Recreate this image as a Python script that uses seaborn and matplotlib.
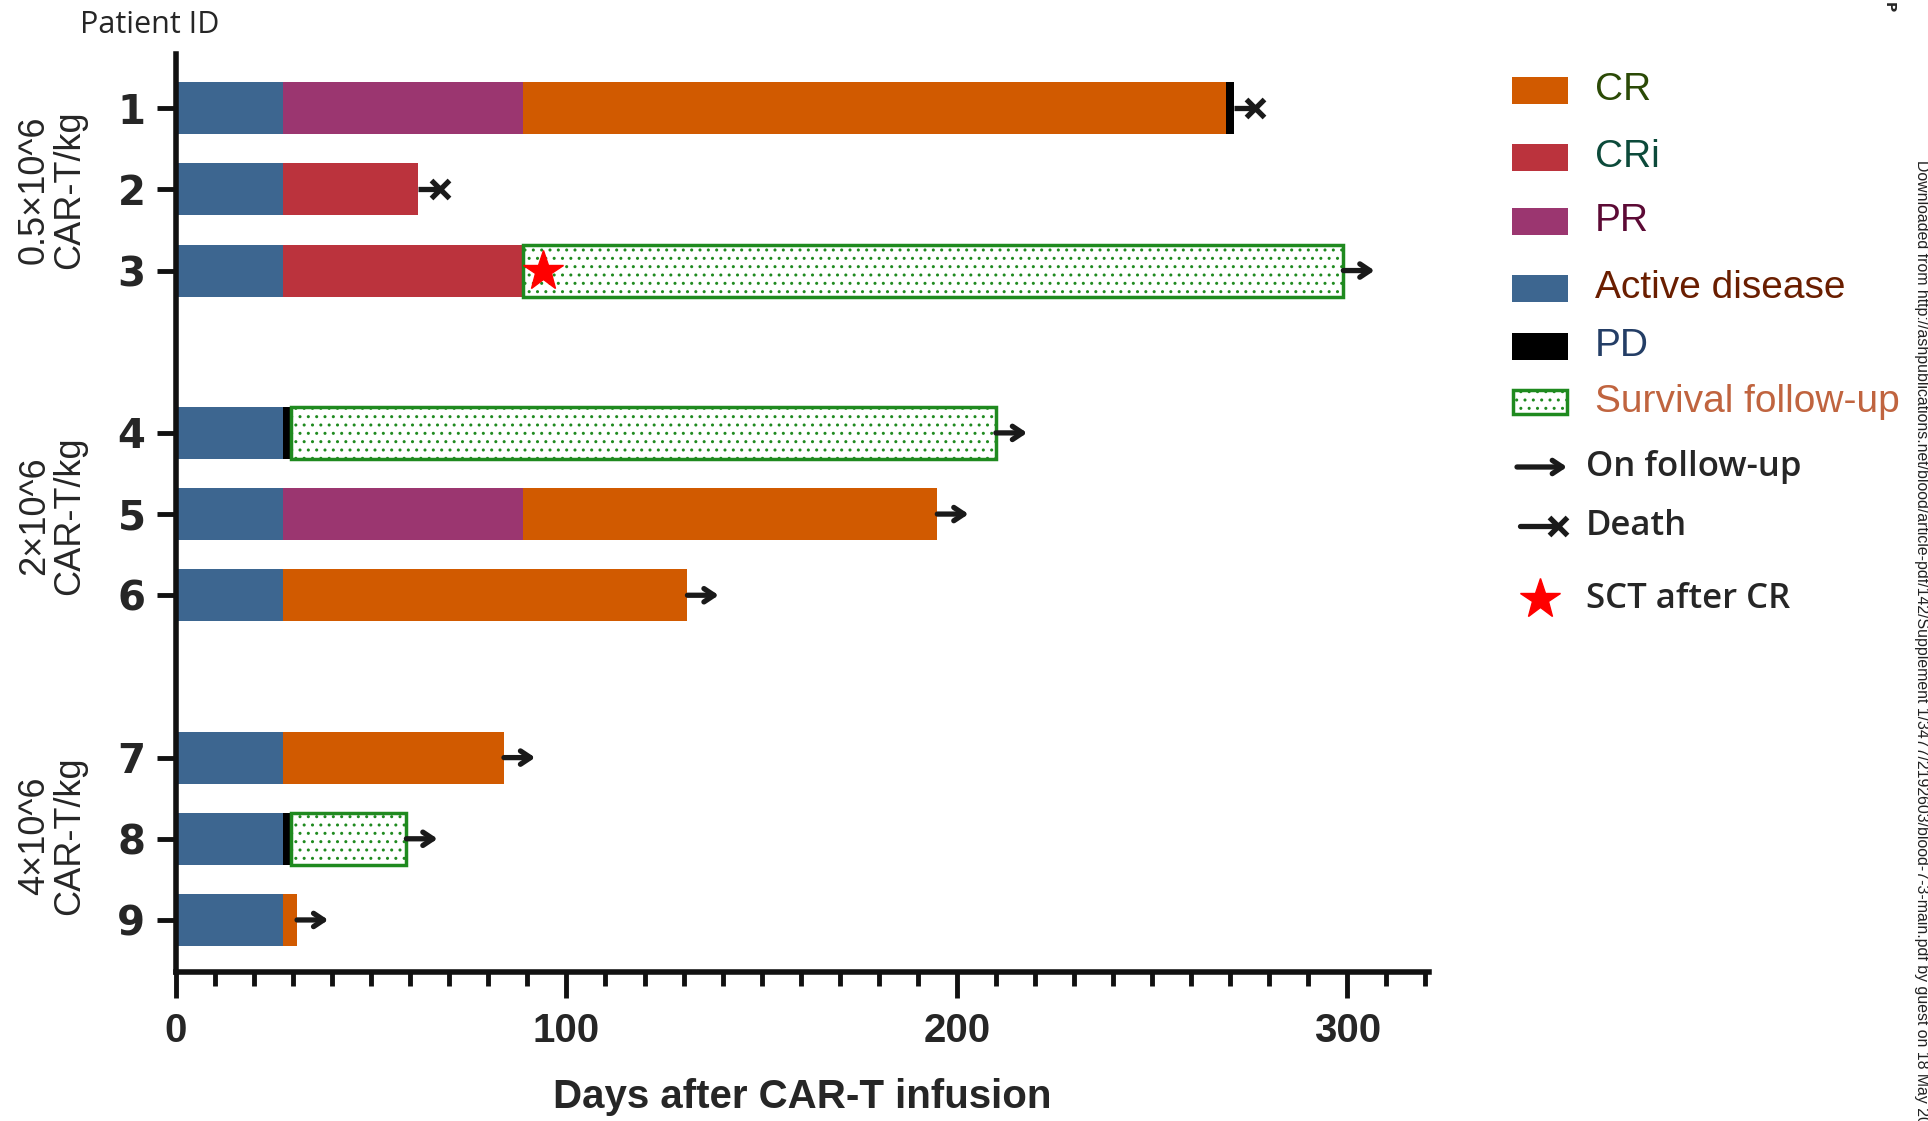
import numpy as np
import pandas as pd
import seaborn as sns
import matplotlib.pyplot as plt
from matplotlib import font_manager
from matplotlib.patches import Rectangle

# dados (dias apos a infusao de CAR-T)
patient_ids = ["1", "2", "3", "4", "5", "6", "7", "8", "9"]
patient_group = [0, 0, 0, 1, 1, 1, 2, 2, 2]
dose_labels = ["0.5×10^6\nCAR-T/kg", "2×10^6\nCAR-T/kg", "4×10^6\nCAR-T/kg"]

segment_states = [
    ["Active disease", "PR", "CR", "PD"],
    ["Active disease", "CRi"],
    ["Active disease", "CRi", "Survival follow-up"],
    ["Active disease", "PD", "Survival follow-up"],
    ["Active disease", "PR", "CR"],
    ["Active disease", "CR"],
    ["Active disease", "CR"],
    ["Active disease", "PD", "Survival follow-up"],
    ["Active disease", "CR"],
]
segment_ends = [
    [27.5, 89, 269, 271],
    [27.5, 62],
    [27.5, 89, 299],
    [27.5, 29.5, 210],
    [27.5, 89, 195],
    [27.5, 131],
    [27.5, 84],
    [27.5, 29.5, 59],
    [27.5, 31],
]
outcomes = ["Death", "Death", "On follow-up", "On follow-up", "On follow-up",
            "On follow-up", "On follow-up", "On follow-up", "On follow-up"]
sct_patients = ["3"]
sct_days = [94]

x_ticks = [0, 100, 200, 300]

state_colors = {
    "CR": "#d15a00",
    "CRi": "#bb333d",
    "PR": "#9b3670",
    "Active disease": "#3d6690",
    "PD": "#000000",
    "Survival follow-up": "#ffffff",
}
legend_states = ["CR", "CRi", "PR", "Active disease", "PD", "Survival follow-up"]
legend_text_colors = ["#2b4a06", "#0c4a3a", "#5c0a35", "#6a1e00", "#243e66", "#c0643f"]
legend_marks = ["On follow-up", "Death", "SCT after CR"]
green = "#1f8a1f"

# fontes
sns.set_theme(style="ticks")
names = {f.name for f in font_manager.fontManager.ttflist}
narrow = "Liberation Sans Narrow" if "Liberation Sans Narrow" in names else "Liberation Sans"
plt.rcParams["font.family"] = ["DejaVu Sans"]
plt.rcParams["hatch.linewidth"] = 1.0

# tabela longa com os segmentos
rows = []
for i, (pid, states, ends) in enumerate(zip(patient_ids, segment_states, segment_ends)):
    ypos = i + patient_group[i] + 1
    start = 0
    for s, e in zip(states, ends):
        rows.append({"patient": pid, "ypos": ypos, "state": s, "start": start, "end": e})
        start = e
seg = pd.DataFrame(rows)
ypos_of = dict(zip(seg["patient"], seg["ypos"]))
last_end = seg.groupby("patient")["end"].max()

fig = plt.figure(figsize=(19.28, 11.21), dpi=100)
ax = fig.add_axes([0.0913, 0.133, 0.650, 0.819])

for _, r in seg.iterrows():
    if r["state"] == "Survival follow-up":
        kw = dict(color="white", edgecolor=green, linewidth=2.5, hatch="..")
    else:
        kw = dict(color=state_colors[r["state"]], linewidth=0)
    sns.barplot(x=[r["end"] - r["start"]], y=[r["ypos"]], orient="h", native_scale=True,
                left=r["start"], width=0.64, saturation=1, errorbar=None, ax=ax, **kw)

arrow_kw = dict(arrowstyle="->,head_length=0.6,head_width=0.4",
                lw=3.8, color="k", shrinkA=0, shrinkB=0)

# desfechos
for pid, oc in zip(patient_ids, outcomes):
    y = ypos_of[pid]
    x0 = last_end[pid]
    if oc == "On follow-up":
        ax.annotate("", xy=(x0 + 8, y), xytext=(x0, y), arrowprops=arrow_kw)
    else:
        ax.plot([x0, x0 + 5.5], [y, y], color="k", lw=3.8, solid_capstyle="butt")
        ax.plot(x0 + 5.5, y, marker="x", ms=13, mew=3.8, color="k")

for pid, d in zip(sct_patients, sct_days):
    ax.plot(d, ypos_of[pid], marker="*", color="red", ms=30, mec="red", zorder=5)

# eixos
ax.set_xlim(0, 321)
ax.set_ylim(11.64, 0.33)
ax.set_yticks([ypos_of[p] for p in patient_ids], patient_ids)
ax.set_xticks(x_ticks)
ax.set_xticks(np.arange(0, 321, 10), minor=True)
ax.tick_params(axis="y", length=14, width=3.5, pad=8, labelsize=29, color="#111")
ax.tick_params(axis="x", which="major", length=19, width=3.5, pad=10, color="#111")
ax.tick_params(axis="x", which="minor", length=10, width=3.5, color="#111")
for lab in ax.get_yticklabels():
    lab.set_fontweight("bold")
for lab in ax.get_xticklabels():
    lab.set_fontfamily(narrow)
    lab.set_fontweight("bold")
    lab.set_fontsize(29)
ax.set_ylabel("")
ax.set_xlabel("Days after CAR-T infusion", fontsize=29, fontweight="bold",
              family=narrow, labelpad=20)
sns.despine(ax=ax)
for side in ["left", "bottom"]:
    ax.spines[side].set_linewidth(4)
    ax.spines[side].set_color("#111")

# camada de anotacoes em pixels da figura
ov = fig.add_axes([0, 0, 1, 1])
ov.set_xlim(0, 1928)
ov.set_ylim(1121, 0)
ov.axis("off")

ov.text(150, 25, "Patient ID", fontsize=22, family=["Open Sans", "DejaVu Sans"],
        ha="center", va="center")
for lab, yc in zip(dose_labels, [190, 516, 836]):
    ov.text(52, yc, lab, rotation=90, ha="center", va="center", multialignment="center",
            fontsize=26, family=narrow, linespacing=1.0)

leg_y = [90, 157, 221, 288, 346, 402, 467, 526, 599]
for st, tc, yc in zip(legend_states, legend_text_colors, leg_y):
    if st == "Survival follow-up":
        p = Rectangle((1513, yc - 12), 54, 24, facecolor="white", edgecolor=green,
                      linewidth=2.5, hatch="..")
    else:
        p = Rectangle((1512, yc - 13.5), 56, 27, facecolor=state_colors[st], linewidth=0)
    ov.add_patch(p)
    ov.text(1595, yc, st, color=tc, fontsize=28, family="Liberation Sans", va="center")

ov.annotate("", xy=(1567, leg_y[6]), xytext=(1517, leg_y[6]), arrowprops=arrow_kw)
ov.plot([1520, 1558], [leg_y[7], leg_y[7]], color="k", lw=3.8)
ov.plot(1558, leg_y[7], marker="x", ms=13, mew=3.8, color="k")
ov.plot(1540, leg_y[8], marker="*", color="red", ms=30, mec="red")
for lab, yc in zip(legend_marks, leg_y[6:]):
    ov.text(1586, yc, lab, fontsize=25, fontweight="semibold",
            family=["Open Sans", "DejaVu Sans"], va="center")

ov.text(1921, 160, "Downloaded from http://ashpublications.net/blood/article-pdf/142/Supplement 1/3477/"
        "2192603/blood-7-3-main.pdf by guest on 18 May 2024",
        rotation=-90, ha="center", va="top", fontsize=11.4, color="#222", family="Liberation Sans")
ov.text(1889, 2, "P", rotation=-90, ha="center", va="top", fontsize=10, fontweight="bold")

fig.savefig("out.png", dpi=100)
